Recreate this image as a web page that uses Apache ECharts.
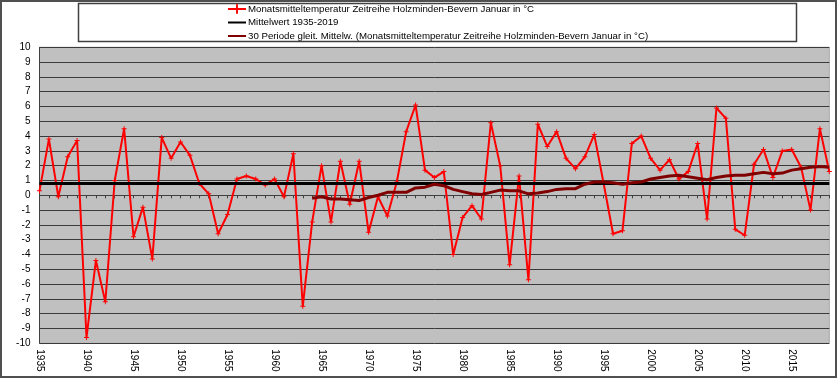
<!DOCTYPE html>
<html>
<head>
<meta charset="utf-8">
<script src="https://cdn.jsdelivr.net/npm/echarts@6/dist/echarts.min.js"></script>
<style>
html,body{margin:0;padding:0;background:#fff;}
#c{width:840px;height:380px;}
</style>
</head>
<body>
<div id="c"></div>
<script>
// Years 1935-2019
var years = [];
for (var y = 1935; y <= 2019; y++) years.push(String(y));

// Monthly mean temperature January (°C), 1935-2019
var tempValues = [
  0.3, 3.8, -0.1, 2.6, 3.7, -9.6, -4.4, -7.2, 1.0, 4.5,
  -2.8, -0.8, -4.3, 3.9, 2.5, 3.6, 2.7, 0.8, 0.1, -2.6,
  -1.3, 1.1, 1.3, 1.1, 0.7, 1.1, -0.1, 2.8, -7.5, -1.8,
  2.0, -1.8, 2.3, -0.6, 2.3, -2.5, -0.1, -1.4, 0.9, 4.3,
  6.1, 1.7, 1.2, 1.6, -4.0, -1.5, -0.7, -1.6, 4.9, 2.0,
  -4.7, 1.3, -5.7, 4.8, 3.3, 4.3, 2.5, 1.8, 2.6, 4.1,
  0.8, -2.6, -2.4, 3.5, 4.0, 2.5, 1.7, 2.4, 1.1, 1.6,
  3.5, -1.6, 5.9, 5.2, -2.3, -2.7, 2.1, 3.1, 1.2, 3.0,
  3.1, 1.9, -1.0, 4.5, 1.6
];

// Mean value 1935-2019
var meanValue = 0.8;

// 30-period moving average, 1964-2019
var maStartYear = "1964";
var maValues = [
  -0.2, -0.1, -0.25, -0.25, -0.3, -0.35, -0.15, 0.0, 0.2, 0.2,
  0.2, 0.5, 0.55, 0.75, 0.65, 0.4, 0.25, 0.1, 0.05, 0.2,
  0.35, 0.3, 0.3, 0.1, 0.15, 0.25, 0.4, 0.45, 0.45, 0.75,
  0.9, 0.9, 0.85, 0.75, 0.85, 0.9, 1.1, 1.2, 1.3, 1.35,
  1.25, 1.15, 1.05, 1.2, 1.3, 1.35, 1.35, 1.45, 1.55, 1.45,
  1.5, 1.7, 1.8, 1.9, 1.95, 1.9
];

// Y-axis tick range
var yMin = -10, yMax = 10, yStep = 1;

var seriesNames = [
  "Monatsmitteltemperatur Zeitreihe Holzminden-Bevern Januar in °C",
  "Mittelwert 1935-2019",
  "30 Periode gleit. Mittelw. (Monatsmitteltemperatur Zeitreihe Holzminden-Bevern Januar in °C)"
];

var meanData = years.map(function () { return meanValue; });
var maOffset = years.indexOf(maStartYear);
var maData = years.map(function (yr, i) {
  return i < maOffset ? null : maValues[i - maOffset];
});

var FONT = "'Liberation Sans',Arial,sans-serif";
var plus = 'path://M4,0h2v4h4v2h-4v4h-2v-4h-4v-2h4z';

var chart = echarts.init(document.getElementById('c'), null, {renderer: 'canvas'});
chart.setOption({
  animation: false,
  backgroundColor: '#ffffff',
  textStyle: {fontFamily: FONT},
  graphic: [
    {type: 'rect', z: -10, shape: {x: 1, y: 1, width: 835, height: 376},
     style: {fill: '#ffffff', stroke: '#505050', lineWidth: 2}},
    {type: 'rect', z: 0, shape: {x: 78.5, y: 3.5, width: 718, height: 38},
     style: {fill: '#ffffff', stroke: '#404040', lineWidth: 1.5}}
  ],
  legend: {
    orient: 'vertical',
    left: 227,
    top: 3,
    z: 10,
    itemWidth: 18,
    itemHeight: 12,
    itemGap: 1.5,
    padding: 0,
    textStyle: {fontFamily: FONT, fontSize: 9.7, color: '#000', padding: [0, 0, 0, -3], lineHeight: 12},
    data: [
      {name: seriesNames[0]},
      {name: seriesNames[1], itemStyle: {opacity: 0}},
      {name: seriesNames[2], itemStyle: {opacity: 0}}
    ]
  },
  grid: {
    left: 39.5, right: 10.7, top: 47.3, bottom: 36.7,
    show: true, backgroundColor: '#c0c0c0', borderColor: '#a8a8a8', borderWidth: 1
  },
  xAxis: {
    type: 'category',
    data: years,
    boundaryGap: false,
    axisLine: {show: true, lineStyle: {color: '#404040', width: 1}},
    axisTick: {show: true, interval: 0, length: 3, lineStyle: {color: '#404040'}},
    axisLabel: {interval: 4, rotate: -90, margin: 6, fontSize: 10, color: '#000', fontFamily: FONT},
    splitLine: {show: false}
  },
  yAxis: {
    type: 'value',
    min: yMin, max: yMax, interval: yStep,
    axisLine: {show: true, lineStyle: {color: '#404040', width: 1}},
    axisTick: {show: false},
    axisLabel: {margin: 9, fontSize: 10, color: '#000', fontFamily: FONT},
    splitLine: {show: true, lineStyle: {color: '#3a3a3a', width: 1}}
  },
  series: [
    {
      name: seriesNames[0], type: 'line', data: tempValues, z: 3,
      symbol: plus, symbolSize: 5, showSymbol: true,
      itemStyle: {color: '#ff0000'},
      lineStyle: {color: '#ff0000', width: 2}
    },
    {
      name: seriesNames[1], type: 'line', data: meanData, z: 4,
      symbol: 'none',
      itemStyle: {color: '#000000'},
      lineStyle: {color: '#000000', width: 3}
    },
    {
      name: seriesNames[2], type: 'line', data: maData, z: 5,
      symbol: 'none', smooth: false,
      itemStyle: {color: '#800000'},
      lineStyle: {color: '#800000', width: 3}
    }
  ]
});
</script>
</body>
</html>
